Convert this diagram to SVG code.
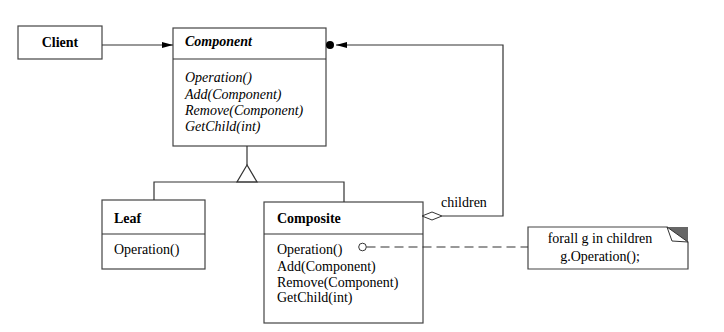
<svg xmlns="http://www.w3.org/2000/svg" width="724" height="332" viewBox="0 0 724 332">
<style>
.box{fill:#fff;stroke:#444;stroke-width:1.2}
.ln{fill:none;stroke:#333;stroke-width:1.2}
text{font-family:"Liberation Serif","Times New Roman","DejaVu Serif",serif;font-size:14px;fill:#000}
.b{font-weight:bold}
.i{font-style:italic}
.c{text-anchor:middle}
</style>
<defs>
<marker id="arr" markerWidth="11" markerHeight="7" refX="11" refY="3.5" orient="auto" markerUnits="userSpaceOnUse">
<path d="M0,0.5 L11,3.5 L0,6.5 Z" fill="#000"/>
</marker>
</defs>
<rect width="724" height="332" fill="#fff"/>
<g id="client">
<rect class="box" x="18" y="26" width="84" height="33"/>
<text class="b c" x="60" y="47" font-family="Liberation Serif, serif">Client</text>
</g>
<g id="component">
<rect class="box" x="173" y="28" width="153" height="118"/>
<line class="ln" x1="173" y1="59" x2="326" y2="59"/>
<text class="b i" x="185" y="46">Component</text>
<text class="i" x="185" y="82">Operation()</text>
<text class="i" x="185" y="98.5">Add(Component)</text>
<text class="i" x="185" y="115">Remove(Component)</text>
<text class="i" x="185" y="131">GetChild(int)</text>
</g>
<g id="leaf">
<rect class="box" x="102" y="200" width="103" height="69"/>
<line class="ln" x1="102" y1="234" x2="205" y2="234"/>
<text class="b" x="114" y="223">Leaf</text>
<text x="114" y="254">Operation()</text>
</g>
<g id="composite">
<rect class="box" x="264" y="202" width="159" height="121"/>
<line class="ln" x1="264" y1="234" x2="423" y2="234"/>
<text class="b" x="277" y="223">Composite</text>
<text x="277" y="254">Operation()</text>
<text x="277" y="270.5">Add(Component)</text>
<text x="277" y="286.5">Remove(Component)</text>
<text x="277" y="302">GetChild(int)</text>
</g>
<g id="note">
<polygon class="box" points="528,227 667,227 688,242 688,269 528,269"/>
<polygon points="667,227 688,227 688,242" fill="#666"/>
<polyline points="667,227 672,241 688,242" fill="#fff" stroke="#333" stroke-width="1"/>
<line x1="667" y1="227" x2="688" y2="242" stroke="#333" stroke-width="1"/>
<text class="c" x="600" y="243">forall g in children</text>
<text class="c" x="600" y="261">g.Operation();</text>
</g>
<g id="connectors">
<line class="ln" x1="102" y1="45" x2="173" y2="45" marker-end="url(#arr)"/>
<polyline class="ln" points="442,216 503,216 503,45 336,45" marker-end="url(#arr)"/>
<circle cx="330" cy="45" r="4" fill="#000"/>
<polygon points="422,216 432,212 442,216 432,220" fill="#fff" stroke="#333" stroke-width="1"/>
<text x="441" y="207">children</text>
<line class="ln" x1="247" y1="146" x2="247" y2="165"/>
<polygon points="247,165 237,182 257,182" fill="#fff" stroke="#333" stroke-width="1.2"/>
<polyline class="ln" points="154,200 154,182 344,182 344,202"/>
<circle cx="362.5" cy="247" r="3.8" fill="#fff" stroke="#333" stroke-width="1"/>
<line class="ln" x1="366.5" y1="247" x2="528" y2="247" stroke-dasharray="9,5"/>
</g>
</svg>
